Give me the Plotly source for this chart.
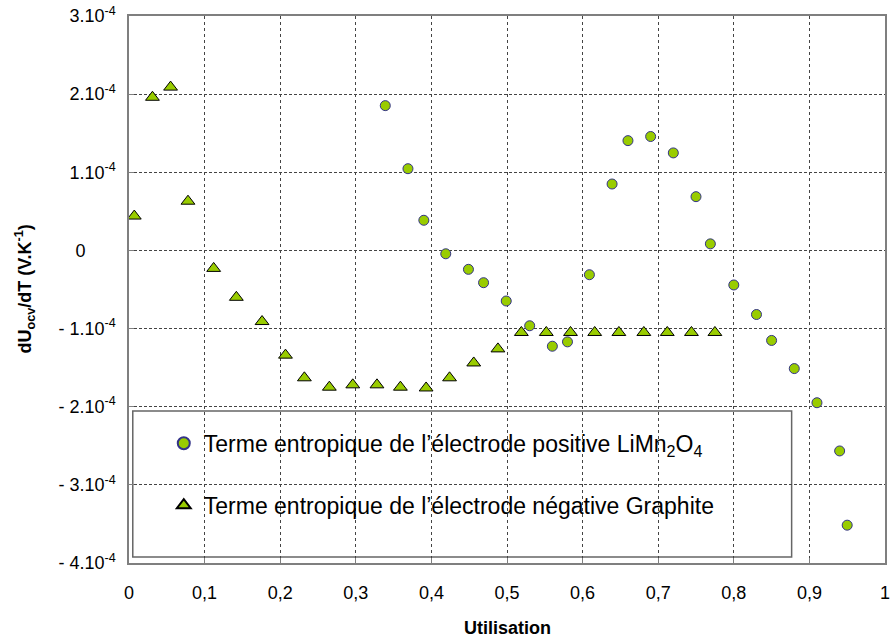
import plotly.graph_objects as go

# Utilisation (state of charge fraction) and entropic term dUocv/dT (V/K)
pos_x = [0.339, 0.369, 0.390, 0.419, 0.449, 0.469, 0.499, 0.530, 0.560, 0.580,
         0.609, 0.639, 0.660, 0.690, 0.720, 0.750, 0.769, 0.800, 0.830, 0.850,
         0.880, 0.910, 0.940, 0.950]
pos_y = [1.853e-4, 1.046e-4, 0.386e-4, -0.043e-4, -0.242e-4, -0.413e-4, -0.647e-4,
         -0.964e-4, -1.226e-4, -1.170e-4, -0.311e-4, 0.850e-4, 1.405e-4, 1.458e-4,
         1.248e-4, 0.688e-4, 0.084e-4, -0.442e-4, -0.820e-4, -1.152e-4, -1.512e-4,
         -1.949e-4, -2.566e-4, -3.516e-4]

neg_x = [0.007, 0.031, 0.055, 0.078, 0.112, 0.142, 0.176, 0.207, 0.232, 0.265,
         0.296, 0.328, 0.359, 0.393, 0.424, 0.456, 0.488, 0.519, 0.552, 0.584,
         0.616, 0.648, 0.681, 0.712, 0.744, 0.775]
neg_y = [0.44e-4, 1.96e-4, 2.09e-4, 0.63e-4, -0.23e-4, -0.60e-4, -0.91e-4, -1.34e-4,
         -1.63e-4, -1.75e-4, -1.72e-4, -1.72e-4, -1.75e-4, -1.76e-4, -1.63e-4,
         -1.44e-4, -1.26e-4, -1.05e-4, -1.05e-4, -1.05e-4, -1.05e-4, -1.05e-4,
         -1.05e-4, -1.05e-4, -1.05e-4, -1.05e-4]

y_ticks = [3e-4, 2e-4, 1e-4, 0, -1e-4, -2e-4, -3e-4, -4e-4]
y_ticktext = ["3.10<sup>-4</sup>", "2.10<sup>-4</sup>", "1.10<sup>-4</sup>",
              "0" + "\u00a0" * 6,
              "- 1.10<sup>-4</sup>", "- 2.10<sup>-4</sup>", "- 3.10<sup>-4</sup>",
              "- 4.10<sup>-4</sup>"]
x_ticks = [0, 0.1, 0.2, 0.3, 0.4, 0.5, 0.6, 0.7, 0.8, 0.9, 1]
x_ticktext = ["0", "0,1", "0,2", "0,3", "0,4", "0,5", "0,6", "0,7", "0,8", "0,9", "1"]

GREEN = "#99CC00"
FONT = "Liberation Sans, Arial, sans-serif"

fig = go.Figure()
fig.add_trace(go.Scatter(
    x=pos_x, y=pos_y, mode="markers", legendgroup="pos",
    name="Terme entropique de l\u2019électrode positive LiMn<sub>2</sub>O<sub>4</sub>",
    marker=dict(symbol="circle", size=10, color=GREEN,
                line=dict(color="#333388", width=1)),
))
fig.add_trace(go.Scatter(
    x=neg_x, y=neg_y, mode="markers", legendgroup="neg",
    name="Terme entropique de l\u2019électrode négative Graphite",
    marker=dict(symbol="triangle-up", size=12, color=GREEN,
                line=dict(color="#000000", width=1)),
))

# white legend frame covering the grid
fig.add_shape(type="rect", xref="paper", yref="paper",
              x0=0.005, x1=0.8765, y0=0.011, y1=0.278,
              line=dict(color="#666666", width=1.5), fillcolor="white",
              layer="between")

# axis titles
fig.add_annotation(text="<b>Utilisation</b>", xref="paper", yref="paper",
                   x=0.5, y=0, yshift=-65, showarrow=False,
                   xanchor="center", yanchor="middle",
                   font=dict(size=18, family=FONT, color="black"))
fig.add_annotation(text="<b>dU<sub>ocv</sub>/dT (V.K<sup>-1</sup>)</b>",
                   xref="paper", yref="paper", x=0, y=0.5, xshift=-104,
                   textangle=-90, showarrow=False,
                   xanchor="center", yanchor="middle",
                   font=dict(size=18, family=FONT, color="black"))

fig.update_layout(
    width=894, height=641,
    margin=dict(l=129, r=4, t=15, b=78),
    plot_bgcolor="white", paper_bgcolor="white",
    font=dict(family=FONT, color="black", size=18),
    showlegend=True,
    legend=dict(x=0.046, y=0.258, xanchor="left", yanchor="top",
                bgcolor="rgba(0,0,0,0)", borderwidth=0,
                font=dict(size=23, family=FONT, color="black"),
                tracegroupgap=29, traceorder="grouped",
                itemsizing="constant"),
    xaxis=dict(range=[0, 1], tickvals=x_ticks, ticktext=x_ticktext,
               showgrid=True, gridcolor="#444444", griddash="dot", gridwidth=1,
               showline=True, linecolor="#7f7f7f", linewidth=1.5, mirror=True,
               ticks="inside", ticklen=5, tickcolor="#7f7f7f",
               zeroline=False, ticklabelstandoff=13,
               tickfont=dict(size=18, family=FONT, color="black")),
    yaxis=dict(range=[-4e-4, 3e-4], tickvals=y_ticks, ticktext=y_ticktext,
               showgrid=True, gridcolor="#444444", griddash="3px,2px", gridwidth=1,
               showline=True, linecolor="#7f7f7f", linewidth=1.5, mirror=True,
               ticks="inside", ticklen=5, tickcolor="#7f7f7f",
               zeroline=False, ticklabelstandoff=8,
               tickfont=dict(size=18, family=FONT, color="black")),
)

fig.write_html("out.html")
